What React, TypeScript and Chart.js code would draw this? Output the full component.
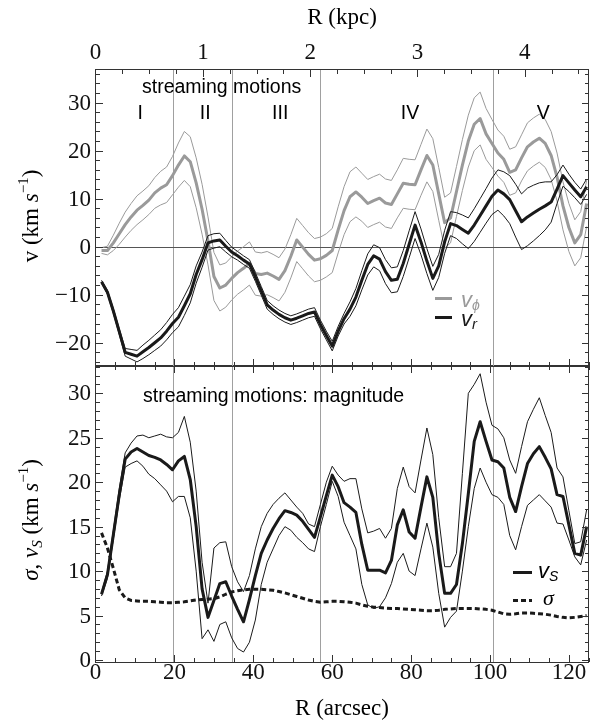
import { useEffect, useRef } from "react";
import { Chart, registerables } from "chart.js";

Chart.register(...registerables);

// ---- data -------------------------------------------------------------
// radius of each bin, arcsec
const R_ARCSEC = [
  1.5, 3, 4.5, 6, 7.5, 9, 10.5, 12, 13.5, 15,
  16.5, 18, 19.5, 21, 22.5, 24, 25.5, 27, 28.5, 30,
  31.5, 33, 34.5, 36, 37.5, 39, 40.5, 42, 43.5, 45,
  46.5, 48, 49.5, 51, 52.5, 54, 55.5, 57, 58.5, 60,
  61.5, 63, 64.5, 66, 67.5, 69, 70.5, 72, 73.5, 75,
  76.5, 78, 79.5, 81, 82.5, 84, 85.5, 87, 88.5, 90,
  91.5, 93, 94.5, 96, 97.5, 99, 100.5, 102, 103.5, 105,
  106.5, 108, 109.5, 111, 112.5, 114, 115.5, 117, 118.5, 120,
  121.5, 123, 124.5,
];

// tangential streaming velocity v_phi (km/s) and its uncertainty
const V_PHI = [
  -0.8, -0.8, 0.8, 2.7, 4.6, 6.2, 7.6, 8.6, 9.7, 11.2,
  12.2, 12.9, 14.8, 17.0, 18.9, 17.7, 13.3, 7.8, 1.2, -6.2,
  -8.6, -8.0, -6.6, -5.4, -4.5, -3.5, -5.6, -5.8, -5.5, -6.1,
  -6.8, -5.0, -2.0, 1.4, -0.1, -1.6, -2.8, -2.5, -1.8, -0.8,
  3.5, 7.5, 10.4, 11.4, 10.3, 9.0, 9.6, 10.1, 9.1, 8.8,
  11.0, 13.2, 13.0, 12.9, 16.0, 19.0, 17.0, 11.0, 5.0, 6.0,
  11.5, 17.0, 22.0, 25.5, 26.7, 23.5, 21.5, 19.5, 18.2, 15.5,
  16.0, 18.5, 20.8, 21.8, 22.6, 21.5, 19.0, 14.5, 8.5, 4.0,
  0.8, 2.5, 9.0,
];
const V_PHI_ERR = [
  0.6, 0.9, 1.6, 2.2, 2.6, 2.8, 3.0, 3.0, 3.0, 3.2,
  3.5, 3.7, 4.0, 4.6, 5.1, 5.2, 5.2, 5.2, 5.0, 5.0,
  4.8, 4.6, 4.5, 4.5, 4.5, 4.5, 4.5, 4.5, 4.5, 4.5,
  4.5, 4.5, 4.5, 4.5, 4.5, 4.5, 4.5, 4.5, 4.5, 4.6,
  4.8, 5.0, 5.2, 5.2, 5.0, 5.0, 5.0, 5.0, 5.0, 5.0,
  5.0, 5.2, 5.2, 5.2, 5.3, 5.5, 5.5, 5.5, 5.3, 5.2,
  5.2, 5.3, 5.4, 5.5, 5.5, 5.3, 5.0, 4.8, 4.8, 4.8,
  4.8, 4.8, 5.0, 5.0, 5.0, 5.0, 5.0, 5.0, 5.0, 5.0,
  4.8, 4.8, 4.8,
];

// radial streaming velocity v_r (km/s) and its uncertainty
const V_R = [
  -7.3, -9.5, -13.4, -17.7, -22.0, -22.4, -22.8, -21.9, -21.0, -20.0,
  -19.0, -17.6, -16.0, -14.7, -12.3, -9.8, -5.8, -2.7, 0.8, 1.2,
  1.4, 0.1, -1.1, -1.9, -2.8, -3.6, -6.3, -9.2, -12.1, -13.2,
  -14.1, -14.8, -15.3, -14.9, -14.4, -13.9, -13.6, -16.2, -18.5, -20.7,
  -17.6, -15.0, -13.0, -10.5, -7.0, -3.7, -1.9, -2.6, -5.2, -7.0,
  -6.8, -3.5, 0.5, 4.5, 1.0, -3.0, -6.6, -4.0, 1.0, 4.8,
  4.4, 3.6, 2.8, 4.5, 6.5, 8.5, 10.5, 11.8, 11.0, 9.8,
  7.5, 5.2, 6.2, 7.0, 7.8, 8.5, 9.3, 12.0, 14.8, 13.3,
  11.8, 10.4, 12.5,
];
const V_R_ERR = [
  0.3, 0.4, 0.5, 0.6, 0.8, 1.0, 1.2, 1.4, 1.5, 1.6,
  1.7, 1.8, 1.9, 2.0, 2.0, 1.9, 1.8, 1.6, 1.5, 1.5,
  1.4, 1.2, 1.0, 0.9, 0.9, 0.9, 0.9, 0.9, 0.9, 0.9,
  0.9, 0.9, 0.9, 0.9, 0.9, 0.9, 0.9, 0.9, 0.9, 1.0,
  1.0, 1.1, 1.5, 1.8, 2.0, 2.2, 2.3, 2.4, 2.5, 2.6,
  2.6, 2.7, 2.8, 2.8, 2.7, 2.6, 2.5, 2.4, 2.4, 2.5,
  2.7, 3.0, 3.2, 3.4, 3.5, 3.6, 3.8, 4.2, 4.6, 5.0,
  5.5, 5.8, 6.0, 5.8, 5.5, 5.0, 4.2, 3.0, 2.2, 1.8,
  1.6, 1.6, 1.6,
];

// streaming magnitude v_S (km/s) with its upper / lower bounds
const V_S = [
  7.4, 9.6, 14.1, 18.6, 22.6, 23.4, 23.8, 23.4, 23.0, 22.8,
  22.5, 22.0, 21.4, 22.4, 22.9, 20.3, 15.0, 8.0, 4.8, 6.7,
  8.6, 8.8, 7.2, 5.7, 4.3, 6.8, 9.5, 12.0, 13.5, 14.8,
  15.9, 16.8, 16.6, 16.3, 15.6, 14.7, 13.8, 16.1, 18.5, 20.8,
  19.5, 17.7, 17.2, 16.6, 13.0, 10.1, 10.1, 10.1, 9.8, 11.2,
  15.2, 16.9, 14.4, 13.7, 17.2, 20.6, 18.3, 12.0, 7.5, 7.5,
  8.5, 13.1, 18.7, 24.6, 26.8, 24.6, 22.5, 22.3, 21.6, 18.3,
  16.7, 19.5, 22.1, 23.2, 24.0, 22.8, 21.5, 18.6, 18.4, 15.2,
  12.0, 11.8, 15.0,
];
const V_S_HI = [
  7.6, 10.0, 14.6, 19.3, 23.3, 24.4, 25.2, 25.3, 25.0, 25.2,
  25.4, 25.1, 25.0, 25.6, 27.4, 24.5, 19.0, 11.0, 6.4, 12.6,
  13.2, 13.3, 10.5, 8.8, 7.7, 9.5, 12.5, 15.0, 16.5, 17.5,
  18.2, 18.8, 18.0, 17.2, 16.5, 15.3, 15.0, 17.5, 20.0, 21.8,
  20.8, 20.1, 20.4, 20.4, 17.0, 14.3, 14.5, 14.8, 13.7, 14.8,
  19.3, 21.7, 19.5, 18.8, 22.5, 26.1, 23.1, 16.0, 10.5, 10.5,
  12.0, 21.0, 30.0, 31.0, 32.2, 29.0, 26.4, 26.0, 25.0, 22.5,
  21.0, 24.0, 26.8, 28.2, 29.5, 27.5, 25.6, 21.6, 20.6, 16.8,
  13.1, 13.3, 16.9,
];
const V_S_LO = [
  7.2, 9.2, 13.6, 18.0, 21.7, 22.1, 22.4, 21.8, 20.9, 20.4,
  19.7, 19.0, 17.8, 18.4, 18.4, 16.0, 10.0, 2.4, 3.4, 2.1,
  4.0, 4.3, 2.5, 1.3, 0.9, 2.0, 4.5, 8.5, 11.0, 12.5,
  14.0, 15.0, 14.6, 13.8, 13.2, 12.5, 12.2, 15.0, 17.5, 20.1,
  18.4, 15.5, 14.0, 12.5, 8.5, 6.2, 5.8, 6.0, 7.0, 8.6,
  11.0, 12.0, 10.0, 9.5, 12.5, 15.4, 12.7, 7.5, 3.7, 4.8,
  5.5, 10.0, 15.0, 19.3, 21.6, 20.0, 18.6, 18.3, 17.5, 14.0,
  12.4, 15.0, 17.4, 18.0, 18.6, 17.9, 17.2, 15.4, 15.3, 13.5,
  11.6, 10.7, 13.5,
];

// velocity dispersion sigma (km/s)
const SIGMA = [
  14.3, 12.6, 10.3, 7.9, 7.0, 6.7, 6.65, 6.6, 6.6, 6.55,
  6.5, 6.45, 6.45, 6.5, 6.55, 6.65, 6.75, 6.8, 6.85, 6.9,
  7.1, 7.4, 7.65, 7.8, 7.9, 7.95, 7.95, 7.95, 7.9, 7.85,
  7.7, 7.55, 7.35, 7.15, 6.95, 6.75, 6.6, 6.5, 6.55, 6.6,
  6.6, 6.55, 6.5, 6.4, 6.2, 6.05, 5.95, 5.9, 5.85, 5.8,
  5.8, 5.75, 5.7, 5.65, 5.6, 5.55, 5.55, 5.6, 5.7, 5.75,
  5.8, 5.8, 5.8, 5.8, 5.75, 5.7, 5.6, 5.4, 5.2, 5.15,
  5.2, 5.3, 5.3, 5.25, 5.2, 5.15, 5.05, 4.9, 4.8, 4.75,
  4.8, 4.9, 5.0,
];

// region boundaries (arcsec) and region names
const REGION_EDGES = [19.5, 34.5, 57.0, 100.7];
const REGION_NAMES = ["I", "II", "III", "IV", "V"];
const REGION_LABEL_X = [11.3, 27.8, 46.8, 79.7, 113.5];

// axis ticks
const ARCSEC_TICKS = [0, 20, 40, 60, 80, 100, 120];
const KPC_TICKS = [0, 1, 2, 3, 4];
const V_TICKS = [-20, -10, 0, 10, 20, 30];
const S_TICKS = [0, 5, 10, 15, 20, 25, 30];

// ---- layout -----------------------------------------------------------
const W = 599;
const H = 724;
const PLOT_LEFT = 96;
const PLOT_RIGHT = 589;
const TOP_Y0 = 70;
const MID_Y = 366;
const BOT_Y1 = 662;

const X_MIN = 0.1;
const X_MAX = 125.1;
const ARCSEC_PER_KPC = 27.2;
const V_MIN = -24.85;
const V_MAX = 36.8;
const S_MIN = -0.22;
const S_MAX = 33.07;

const SERIF = "'Liberation Serif', 'Times New Roman', serif";
const SANS = "'Liberation Sans', Arial, sans-serif";
const GRAY = "#9a9a9a";
const INK = "#1a1a1a";
const FRAME = "#333333";
const TICK_FONT = `23px ${SERIF}`;

type Run = { text: string; font: string; dy?: number; color?: string };

function drawRuns(ctx: CanvasRenderingContext2D, runs: Run[], x: number, y: number, align: "left" | "center") {
  ctx.textAlign = "left";
  ctx.textBaseline = "alphabetic";
  const widths = runs.map((r) => {
    ctx.font = r.font;
    return ctx.measureText(r.text).width;
  });
  const total = widths.reduce((a, b) => a + b, 0);
  let cx = align === "center" ? x - total / 2 : x;
  runs.forEach((r, i) => {
    ctx.font = r.font;
    ctx.fillStyle = r.color || "#000";
    ctx.fillText(r.text, cx, y + (r.dy || 0));
    cx += widths[i];
  });
}

function tickList(min: number, max: number, step: number) {
  const out: number[] = [];
  for (let i = Math.ceil(min / step - 1e-9); i * step <= max + 1e-9; i++) out.push(+(i * step).toFixed(6));
  return out;
}

const snap = (v: number) => Math.round(v) + 0.5;

function xTicks(ctx: CanvasRenderingContext2D, scale: any, yEdge: number, dir: number, majorStep: number, minorStep: number) {
  for (const v of tickList(scale.min, scale.max, minorStep)) {
    const major = Math.abs(v / majorStep - Math.round(v / majorStep)) < 1e-6;
    const px = snap(scale.getPixelForValue(v));
    ctx.beginPath();
    ctx.moveTo(px, yEdge);
    ctx.lineTo(px, yEdge + dir * (major ? 7 : 4));
    ctx.stroke();
  }
}

function yTicks(ctx: CanvasRenderingContext2D, scale: any, left: number, right: number, majorStep: number, minorStep: number) {
  for (const v of tickList(scale.min, scale.max, minorStep)) {
    const major = Math.abs(v / majorStep - Math.round(v / majorStep)) < 1e-6;
    const py = snap(scale.getPixelForValue(v));
    const len = major ? 7 : 4;
    ctx.beginPath();
    ctx.moveTo(left, py);
    ctx.lineTo(left + len, py);
    ctx.moveTo(right, py);
    ctx.lineTo(right - len, py);
    ctx.stroke();
  }
}

function guideLines(chart: any, withZero: boolean) {
  const ctx = chart.ctx as CanvasRenderingContext2D;
  const { top, bottom, left, right } = chart.chartArea;
  const x = chart.scales.x;
  ctx.save();
  ctx.lineWidth = 1;
  ctx.strokeStyle = "#a0a0a0";
  for (const e of REGION_EDGES) {
    const px = snap(x.getPixelForValue(e));
    ctx.beginPath();
    ctx.moveTo(px, top);
    ctx.lineTo(px, bottom);
    ctx.stroke();
  }
  if (withZero) {
    const py = snap(chart.scales.y.getPixelForValue(0));
    ctx.strokeStyle = "#555555";
    ctx.beginPath();
    ctx.moveTo(left, py);
    ctx.lineTo(right, py);
    ctx.stroke();
  }
  ctx.restore();
}

function frame(ctx: CanvasRenderingContext2D, area: any) {
  ctx.strokeStyle = FRAME;
  ctx.lineWidth = 1;
  ctx.strokeRect(snap(area.left) - 1, snap(area.top) - 1, Math.round(area.right - area.left), Math.round(area.bottom - area.top) + 1);
}

function legendLine(ctx: CanvasRenderingContext2D, x0: number, x1: number, y: number, color: string, dash: number[] = []) {
  ctx.save();
  ctx.strokeStyle = color;
  ctx.lineWidth = 3;
  ctx.setLineDash(dash);
  ctx.beginPath();
  ctx.moveTo(x0, y);
  ctx.lineTo(x1, y);
  ctx.stroke();
  ctx.restore();
}

const topPanelPlugin = {
  id: "topPanel",
  beforeDatasetsDraw(chart: any) {
    guideLines(chart, true);
  },
  afterDatasetsDraw(chart: any) {
    const ctx = chart.ctx as CanvasRenderingContext2D;
    const area = chart.chartArea;
    const x = chart.scales.x;
    const xk = chart.scales.xk;
    const y = chart.scales.y;
    ctx.save();
    frame(ctx, area);
    ctx.strokeStyle = FRAME;
    xTicks(ctx, xk, area.top, 1, 1, 0.25);
    xTicks(ctx, x, area.bottom, -1, 20, 5);
    yTicks(ctx, y, area.left, area.right, 10, 2);

    // tick labels
    ctx.fillStyle = "#111";
    ctx.font = TICK_FONT;
    ctx.textBaseline = "middle";
    ctx.textAlign = "right";
    for (const v of V_TICKS) {
      const label = v < 0 ? "\u2212" + Math.abs(v) : String(v);
      ctx.fillText(label, PLOT_LEFT - 5, y.getPixelForValue(v) + 1);
    }
    ctx.textAlign = "center";
    for (const k of KPC_TICKS) ctx.fillText(String(k), xk.getPixelForValue(k), 53);

    // axis titles
    drawRuns(ctx, [{ text: "R (kpc)", font: `23px ${SERIF}` }], 342, 24, "center");
    ctx.save();
    ctx.translate(38, 216);
    ctx.rotate(-Math.PI / 2);
    drawRuns(
      ctx,
      [
        { text: "v (km ", font: `23px ${SERIF}` },
        { text: "s", font: `italic 23px ${SERIF}` },
        { text: "\u22121", font: `15px ${SERIF}`, dy: -10 },
        { text: ")", font: `23px ${SERIF}` },
      ],
      0,
      0,
      "center"
    );
    ctx.restore();

    // annotations
    ctx.fillStyle = "#000";
    ctx.font = `19.5px ${SANS}`;
    ctx.textAlign = "left";
    ctx.textBaseline = "alphabetic";
    ctx.fillText("streaming motions", 142, 93);
    ctx.textAlign = "center";
    REGION_NAMES.forEach((n, i) => ctx.fillText(n, x.getPixelForValue(REGION_LABEL_X[i]), 118.5));

    // legend
    legendLine(ctx, 435, 452, 298.5, GRAY);
    legendLine(ctx, 435, 452, 317.5, INK);
    drawRuns(
      ctx,
      [
        { text: "v", font: `italic 22px ${SANS}`, color: GRAY },
        { text: "\u03D5", font: `italic 14px ${SANS}`, dy: 3, color: GRAY },
      ],
      461,
      307,
      "left"
    );
    drawRuns(
      ctx,
      [
        { text: "v", font: `italic 22px ${SANS}`, color: INK },
        { text: "r", font: `italic 15px ${SANS}`, dy: 3, color: INK },
      ],
      461,
      326,
      "left"
    );
    ctx.restore();
  },
};

const bottomPanelPlugin = {
  id: "bottomPanel",
  beforeDatasetsDraw(chart: any) {
    guideLines(chart, false);
  },
  afterDatasetsDraw(chart: any) {
    const ctx = chart.ctx as CanvasRenderingContext2D;
    const area = chart.chartArea;
    const x = chart.scales.x;
    const y = chart.scales.y;
    ctx.save();
    frame(ctx, area);
    ctx.strokeStyle = FRAME;
    xTicks(ctx, x, area.top, 1, 20, 5);
    xTicks(ctx, x, area.bottom, -1, 20, 5);
    yTicks(ctx, y, area.left, area.right, 5, 1);

    ctx.fillStyle = "#111";
    ctx.font = TICK_FONT;
    ctx.textBaseline = "middle";
    ctx.textAlign = "right";
    for (const v of S_TICKS) ctx.fillText(String(v), PLOT_LEFT - 5, y.getPixelForValue(v) + 1);
    ctx.textAlign = "center";
    for (const v of ARCSEC_TICKS) ctx.fillText(String(v), x.getPixelForValue(v), 673);

    drawRuns(ctx, [{ text: "R (arcsec)", font: `23px ${SERIF}` }], 342, 715, "center");
    ctx.save();
    ctx.translate(38, 520);
    ctx.rotate(-Math.PI / 2);
    drawRuns(
      ctx,
      [
        { text: "\u03C3", font: `italic 23px ${SERIF}` },
        { text: ", ", font: `23px ${SERIF}` },
        { text: "v", font: `italic 23px ${SERIF}` },
        { text: "S", font: `italic 15px ${SERIF}`, dy: 4 },
        { text: " (km ", font: `23px ${SERIF}` },
        { text: "s", font: `italic 23px ${SERIF}` },
        { text: "\u22121", font: `15px ${SERIF}`, dy: -10 },
        { text: ")", font: `23px ${SERIF}` },
      ],
      0,
      0,
      "center"
    );
    ctx.restore();

    ctx.fillStyle = "#000";
    ctx.font = `19.5px ${SANS}`;
    ctx.textAlign = "left";
    ctx.textBaseline = "alphabetic";
    ctx.fillText("streaming motions: magnitude", 143, 402);

    legendLine(ctx, 513, 532, 572.5, INK);
    legendLine(ctx, 513, 532, 600.5, INK, [5, 3]);
    drawRuns(
      ctx,
      [
        { text: "v", font: `italic 22px ${SANS}` },
        { text: "S", font: `italic 14px ${SANS}`, dy: 3 },
      ],
      538,
      578,
      "left"
    );
    drawRuns(ctx, [{ text: "\u03C3", font: `italic 22px ${SERIF}` }], 543, 605, "left");
    ctx.restore();
  },
};

function series(values: number[], color: string, width: number, dash: number[] = []) {
  return {
    data: R_ARCSEC.map((r, i) => ({ x: r, y: values[i] })),
    borderColor: color,
    borderWidth: width,
    borderDash: dash,
    borderJoinStyle: "round" as const,
    pointRadius: 0,
    fill: false,
    tension: 0,
  };
}

const plus = (a: number[], b: number[], s: number) => a.map((v, i) => +(v + s * b[i]).toFixed(3));

function baseOptions(padTop: number, padBottom: number, yMin: number, yMax: number, withKpc: boolean) {
  const scales: any = {
    x: { type: "linear", min: X_MIN, max: X_MAX, display: false },
    y: { type: "linear", min: yMin, max: yMax, display: false },
  };
  if (withKpc) {
    scales.xk = {
      type: "linear",
      axis: "x",
      position: "top",
      min: X_MIN / ARCSEC_PER_KPC,
      max: X_MAX / ARCSEC_PER_KPC,
      display: false,
    };
  }
  return {
    responsive: false,
    animation: false as const,
    events: [] as any[],
    layout: { padding: { left: PLOT_LEFT, right: W - PLOT_RIGHT, top: padTop, bottom: padBottom } },
    plugins: { legend: { display: false }, tooltip: { enabled: false } },
    scales,
  };
}

export default function App() {
  const topRef = useRef<HTMLCanvasElement | null>(null);
  const botRef = useRef<HTMLCanvasElement | null>(null);

  useEffect(() => {
    if (!topRef.current || !botRef.current) return;
    const top = new Chart(topRef.current, {
      type: "line",
      data: {
        datasets: [
          series(V_R, INK, 3),
          series(plus(V_R, V_R_ERR, 1), INK, 1),
          series(plus(V_R, V_R_ERR, -1), INK, 1),
          series(V_PHI, GRAY, 3),
          series(plus(V_PHI, V_PHI_ERR, 1), GRAY, 1),
          series(plus(V_PHI, V_PHI_ERR, -1), GRAY, 1),
        ] as any,
      },
      options: baseOptions(TOP_Y0, H - MID_Y, V_MIN, V_MAX, true) as any,
      plugins: [topPanelPlugin],
    });
    const bottom = new Chart(botRef.current, {
      type: "line",
      data: {
        datasets: [
          series(V_S, INK, 3),
          series(V_S_HI, INK, 1),
          series(V_S_LO, INK, 1),
          series(SIGMA, INK, 3, [5, 3]),
        ] as any,
      },
      options: baseOptions(MID_Y, H - BOT_Y1, S_MIN, S_MAX, false) as any,
      plugins: [bottomPanelPlugin],
    });
    return () => {
      top.destroy();
      bottom.destroy();
    };
  }, []);

  const canvasStyle = { position: "absolute" as const, left: 0, top: 0, width: W, height: H };
  return (
    <div style={{ position: "absolute", left: 0, top: 0, width: W, height: H, background: "#fff" }}>
      <canvas ref={botRef} width={W} height={H} style={canvasStyle} />
      <canvas ref={topRef} width={W} height={H} style={canvasStyle} />
    </div>
  );
}
